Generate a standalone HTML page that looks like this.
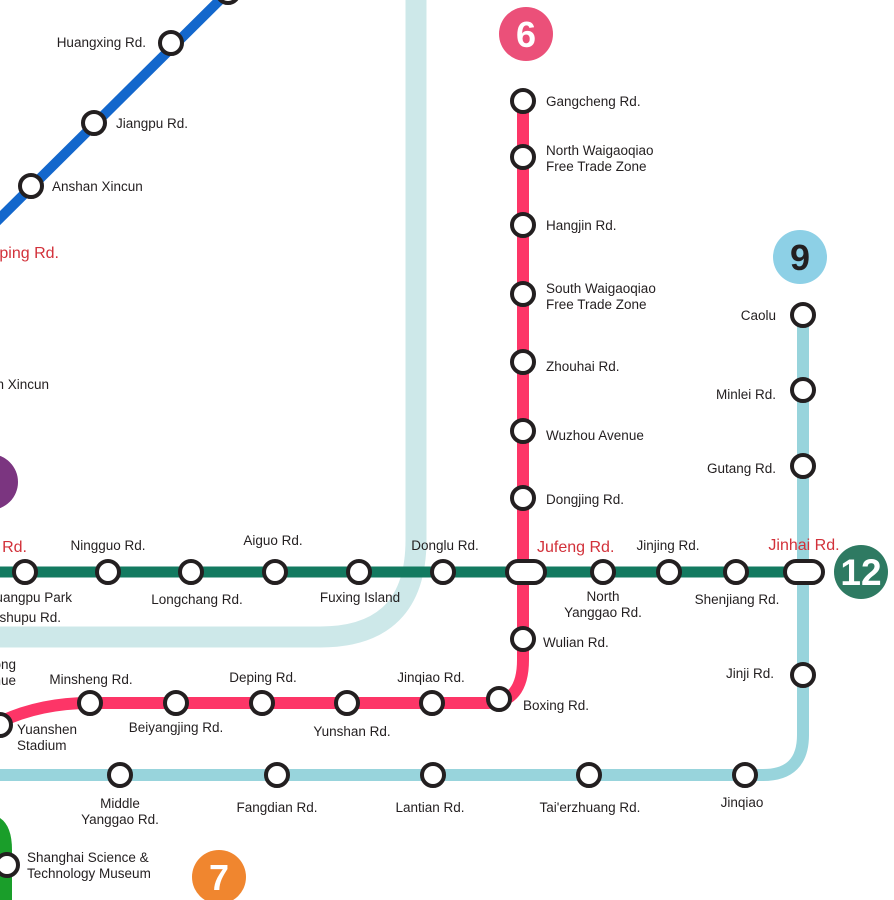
<!DOCTYPE html>
<html><head><meta charset="utf-8"><style>
html,body{margin:0;padding:0;background:#fff;}
svg{display:block;}
text{font-family:"Liberation Sans",sans-serif;font-size:13.5px;fill:#231f20;}
.r{fill:#d2313a;font-size:16px;}
.m{text-anchor:middle;}
.e{text-anchor:end;}
.b{font-size:36px;fill:#fff;text-anchor:middle;font-weight:bold;}
</style></head><body>
<svg width="894" height="900" viewBox="0 0 894 900" xmlns="http://www.w3.org/2000/svg">
<path d="M416,0 V540 Q416,637 320,637 H-10" fill="none" stroke="#cde8e9" stroke-width="21"/>
<path d="M-10,228 L240,-20" fill="none" stroke="#1367cc" stroke-width="10"/>
<path d="M803,315 V735 Q803,775 763,775 H-10" fill="none" stroke="#98d4dc" stroke-width="12"/>
<path d="M-10,572 H805" fill="none" stroke="#137a60" stroke-width="11"/>
<path d="M523,101 V660 Q523,703 488,703 H90 Q40,703 0,722" fill="none" stroke="#fd3567" stroke-width="12"/>
<path d="M-12,900 V840 Q-12,818 0,818 Q12,826 12,850 V900 Z" fill="#1a9e2a"/>
<circle cx="-10" cy="482" r="28" fill="#7b3580"/>
<circle cx="526" cy="34" r="27" fill="#eb5079"/>
<text x="526" y="47" class="b">6</text>
<circle cx="800" cy="257" r="27" fill="#8dd0e6"/>
<text x="800" y="270" class="b" style="fill:#231f20">9</text>
<circle cx="861" cy="572" r="27" fill="#2e7a62"/>
<text x="861" y="585" class="b" style="font-size:37px">12</text>
<circle cx="219" cy="877" r="27" fill="#f0862f"/>
<text x="219" y="890" class="b">7</text>
<g fill="#fff" stroke="#231f20" stroke-width="4">
<circle cx="228" cy="-8" r="11"/><circle cx="171" cy="43" r="11"/><circle cx="94" cy="123" r="11"/><circle cx="31" cy="186" r="11"/>
<circle cx="25" cy="572" r="11"/><circle cx="108" cy="572" r="11"/><circle cx="191" cy="572" r="11"/><circle cx="275" cy="572" r="11"/><circle cx="359" cy="572" r="11"/><circle cx="443" cy="572" r="11"/>
<circle cx="603" cy="572" r="11"/><circle cx="669" cy="572" r="11"/><circle cx="736" cy="572" r="11"/>
<rect x="507" y="561" width="38" height="22" rx="11"/>
<rect x="785" y="561" width="38" height="22" rx="11"/>
<circle cx="523" cy="101" r="11"/><circle cx="523" cy="157" r="11"/><circle cx="523" cy="225" r="11"/><circle cx="523" cy="294" r="11"/><circle cx="523" cy="362" r="11"/><circle cx="523" cy="431" r="11"/><circle cx="523" cy="498" r="11"/><circle cx="523" cy="639" r="11"/>
<circle cx="499" cy="699" r="11"/><circle cx="432" cy="703" r="11"/><circle cx="347" cy="703" r="11"/><circle cx="262" cy="703" r="11"/><circle cx="176" cy="703" r="11"/><circle cx="90" cy="703" r="11"/><circle cx="0" cy="725" r="11"/>
<circle cx="803" cy="315" r="11"/><circle cx="803" cy="390" r="11"/><circle cx="803" cy="466" r="11"/><circle cx="803" cy="675" r="11"/>
<circle cx="745" cy="775" r="11"/><circle cx="589" cy="775" r="11"/><circle cx="433" cy="775" r="11"/><circle cx="277" cy="775" r="11"/><circle cx="120" cy="775" r="11"/>
<circle cx="7" cy="865" r="11"/>
</g>
<text x="146" y="47" class="e">Huangxing Rd.</text>
<text x="116" y="128">Jiangpu Rd.</text>
<text x="52" y="191">Anshan Xincun</text>
<text x="59" y="258" class="r e">Siping Rd.</text>
<text x="49" y="389" class="e">Yin Xincun</text>
<text x="27" y="552" class="r e">Rd.</text>
<text x="108" y="550" class="m">Ningguo Rd.</text>
<text x="273" y="545" class="m">Aiguo Rd.</text>
<text x="445" y="550" class="m">Donglu Rd.</text>
<text x="197" y="604" class="m">Longchang Rd.</text>
<text x="360" y="602" class="m">Fuxing Island</text>
<text x="72" y="602" class="e">Huangpu Park</text>
<text x="61" y="622" class="e">Yangshupu Rd.</text>
<text x="537" y="552" class="r">Jufeng Rd.</text>
<text x="668" y="550" class="m">Jinjing Rd.</text>
<text x="804" y="550" class="r m">Jinhai Rd.</text>
<text x="603" y="601" class="m">North</text>
<text x="603" y="617" class="m">Yanggao Rd.</text>
<text x="737" y="604" class="m">Shenjiang Rd.</text>
<text x="546" y="106">Gangcheng Rd.</text>
<text x="546" y="155">North Waigaoqiao</text>
<text x="546" y="171">Free Trade Zone</text>
<text x="546" y="230">Hangjin Rd.</text>
<text x="546" y="293">South Waigaoqiao</text>
<text x="546" y="309">Free Trade Zone</text>
<text x="546" y="371">Zhouhai Rd.</text>
<text x="546" y="440">Wuzhou Avenue</text>
<text x="546" y="504">Dongjing Rd.</text>
<text x="543" y="647">Wulian Rd.</text>
<text x="523" y="710">Boxing Rd.</text>
<text x="776" y="320" class="e">Caolu</text>
<text x="776" y="399" class="e">Minlei Rd.</text>
<text x="776" y="473" class="e">Gutang Rd.</text>
<text x="774" y="678" class="e">Jinji Rd.</text>
<text x="91" y="684" class="m">Minsheng Rd.</text>
<text x="263" y="682" class="m">Deping Rd.</text>
<text x="431" y="682" class="m">Jinqiao Rd.</text>
<text x="176" y="732" class="m">Beiyangjing Rd.</text>
<text x="352" y="736" class="m">Yunshan Rd.</text>
<text x="16" y="669" class="e">Pudong</text>
<text x="16" y="685" class="e">Avenue</text>
<text x="17" y="734">Yuanshen</text>
<text x="17" y="750">Stadium</text>
<text x="120" y="808" class="m">Middle</text>
<text x="120" y="824" class="m">Yanggao Rd.</text>
<text x="277" y="812" class="m">Fangdian Rd.</text>
<text x="430" y="812" class="m">Lantian Rd.</text>
<text x="590" y="812" class="m">Tai'erzhuang Rd.</text>
<text x="742" y="807" class="m">Jinqiao</text>
<text x="27" y="862">Shanghai Science &amp;</text>
<text x="27" y="878">Technology Museum</text>
</svg>
</body></html>
